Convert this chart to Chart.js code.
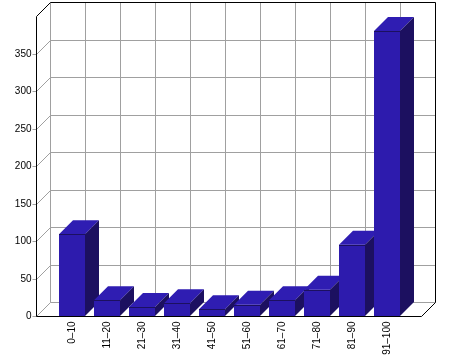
<!DOCTYPE html>
<html>
<head>
<meta charset="utf-8">
<script src="https://cdn.jsdelivr.net/npm/chart.js@4/dist/chart.umd.min.js"></script>
<style>
  html, body { margin: 0; padding: 0; background: #fff; }
  #chart { display: block; }
</style>
</head>
<body>
<canvas id="chart" width="470" height="360"></canvas>
<script>
const categories = ['0–10', '11–20', '21–30', '31–40', '41–50', '51–60', '61–70', '71–80', '81–90', '91–100'];
const values = [109, 21, 12, 17, 9, 15, 21, 35, 95, 380];
const yTicks = [0, 50, 100, 150, 200, 250, 300, 350];
const yMax = 400;

const FRONT = '#2D1BAD';
const TOP = '#2F1DB2';
const SIDE = '#1C1060';
const GRID = '#a0a0a0';
const DEPTH = 14;
const FRAME_LEFT = 36;
const FRAME_RIGHT = 421;

function line(ctx, x1, y1, x2, y2, color) {
  ctx.strokeStyle = color;
  ctx.beginPath();
  ctx.moveTo(x1, y1);
  ctx.lineTo(x2, y2);
  ctx.stroke();
}

// draws the 3d box, grid, tick labels and the bar tops/sides
const frame3d = {
  id: 'frame3d',
  beforeDatasetsDraw(chart) {
    const ctx = chart.ctx;
    const y = chart.scales.y;
    const x = chart.scales.x;
    const base = Math.round(y.getPixelForValue(0)) + 0.5;
    const top = Math.round(y.getPixelForValue(yMax)) + 0.5;
    const xl = FRAME_LEFT + 0.5, xr = FRAME_RIGHT + 0.5;
    const d = DEPTH;

    ctx.save();
    ctx.lineWidth = 1;

    // back wall verticals
    for (let gx = xl + d; gx < xr + d; gx += 35) {
      line(ctx, gx, top - d, gx, base - d, GRID);
    }
    // horizontal grid + diagonals + ticks
    ctx.font = '10px "Liberation Sans", Arial, sans-serif';
    ctx.fillStyle = '#000';
    ctx.textAlign = 'right';
    ctx.textBaseline = 'middle';
    yTicks.forEach(v => {
      const py = Math.round(y.getPixelForValue(v)) + 0.5;
      line(ctx, xl, py, xl + d, py - d, GRID);
      line(ctx, xl + d, py - d, xr + d, py - d, GRID);
      line(ctx, xl - 4, py, xl, py, GRID);
      ctx.fillText(String(v), xl - 5, py);
    });

    // outer black frame
    line(ctx, xl, top, xl, base, '#000');
    line(ctx, xl, base, xr, base, '#000');
    line(ctx, xl, top, xl + d, top - d, '#000');
    line(ctx, xl + d, top - d, xr + d, top - d, '#000');
    line(ctx, xr + d, top - d, xr + d, base - d, '#000');
    line(ctx, xr + d, base - d, xr, base, '#000');

    // x labels
    ctx.textAlign = 'right';
    ctx.textBaseline = 'middle';
    categories.forEach((c, i) => {
      const px = x.getPixelForValue(i);
      ctx.save();
      ctx.translate(px, base + 5);
      ctx.rotate(-Math.PI / 2);
      ctx.fillText(c, 0, 0);
      ctx.restore();
    });

    // bar tops and sides, left to right
    const meta = chart.getDatasetMeta(0);
    meta.data.forEach(bar => {
      const l = bar.x - bar.width / 2, r = bar.x + bar.width / 2;
      const t = bar.y, b = bar.base;
      ctx.fillStyle = TOP;
      ctx.beginPath();
      ctx.moveTo(l, t);
      ctx.lineTo(l + d, t - d);
      ctx.lineTo(r + d, t - d);
      ctx.lineTo(r, t);
      ctx.closePath();
      ctx.fill();
      ctx.fillStyle = SIDE;
      ctx.beginPath();
      ctx.moveTo(r, t);
      ctx.lineTo(r + d, t - d);
      ctx.lineTo(r + d, b - d);
      ctx.lineTo(r, b);
      ctx.closePath();
      ctx.fill();
    });
    ctx.restore();
  },
  afterDatasetsDraw(chart) {
    // dark edge between front face and top face
    const ctx = chart.ctx;
    ctx.save();
    ctx.lineWidth = 1;
    chart.getDatasetMeta(0).data.forEach(bar => {
      const t = Math.round(bar.y) + 0.5;
      line(ctx, bar.x - bar.width / 2, t, bar.x + bar.width / 2, t, SIDE);
    });
    ctx.restore();
  }
};

new Chart(document.getElementById('chart'), {
  type: 'bar',
  data: {
    labels: categories,
    datasets: [{
      data: values,
      backgroundColor: FRONT,
      borderWidth: 0,
      categoryPercentage: 1,
      barPercentage: 26 / 35
    }]
  },
  options: {
    responsive: false,
    animation: false,
    devicePixelRatio: 1,
    layout: { padding: { left: 54.5, right: 65.5, top: 16, bottom: 44 } },
    plugins: { legend: { display: false }, tooltip: { enabled: false } },
    scales: {
      x: { display: false },
      y: { display: false, min: 0, max: yMax }
    }
  },
  plugins: [frame3d]
});
</script>
</body>
</html>
